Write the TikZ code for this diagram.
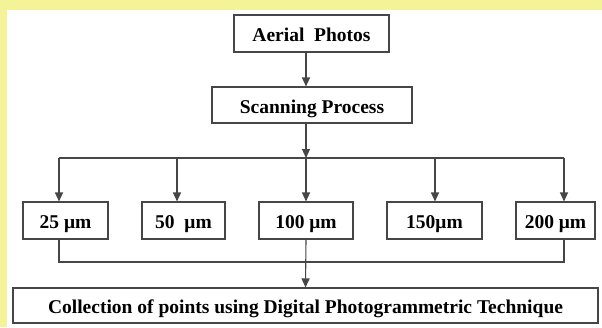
\documentclass[tikz,border=0pt]{standalone}
\usepackage{fontspec}
\setmainfont{Liberation Serif}
\usetikzlibrary{arrows.meta}
\definecolor{bandyellow}{RGB}{245,243,152}
\definecolor{linegray}{RGB}{70,70,70}
\tikzset{
  box/.style={draw=linegray, line width=1.1pt, inner sep=0pt,
              text height=16.4pt, text depth=0pt,
              font=\fontsize{19.5}{22}\selectfont\bfseries, text=black},
  flow/.style={draw=linegray, line width=1.1pt},
  arr/.style={flow, -{Triangle[width=8pt,length=9pt]}}
}
\begin{document}
\begin{tikzpicture}[x=1pt, y=-1pt]
  % page frame: white sheet with a yellow band on top and left
  \fill[white] (0,0) rectangle (602,327);
  \useasboundingbox (0,0) rectangle (602,327);
  \fill[bandyellow] (0,0) rectangle (602,10);
  \fill[bandyellow] (0,0) rectangle (7,327);

  % process boxes
  \node[box, minimum width=155pt, minimum height=37pt] (aerial) at (311.5,33.5) {Aerial\ \ Photos};
  \node[box, minimum width=200pt, minimum height=36pt] (scan) at (312,105) {Scanning Process};

  % resolution boxes
  \node[box, minimum width=85pt, minimum height=37pt] (r25)  at (65.5,220.5)  {25 μm};
  \node[box, minimum width=83pt, minimum height=37pt] (r50)  at (183.5,220.5) {50\ \ μm};
  \node[box, minimum width=94pt, minimum height=37pt] (r100) at (306,220.5)   {100 μm};
  \node[box, minimum width=95pt, minimum height=37pt] (r150) at (434.5,220.5) {150μm};
  \node[box, minimum width=79pt, minimum height=37pt] (r200) at (555.5,220.5) {200 μm};

  \node[box, minimum width=585pt, minimum height=35pt] (collect) at (305.5,305.5)
    {Collection of points using Digital Photogrammetric Technique};

  % branch lines
  \coordinate (spine) at (306,158);
  \coordinate (d1) at (59,158);
  \coordinate (d2) at (177,158);
  \coordinate (d3) at (306,158);
  \coordinate (d4) at (435,158);
  \coordinate (d5) at (564,158);
  \coordinate (j1) at (59,262);
  \coordinate (j5) at (564,262);

  \draw[arr] (spine |- aerial.south) -- (spine |- scan.north);
  \draw[arr] (spine |- scan.south) -- (spine);
  \draw[flow] (d1) -- (d5);
  \draw[arr] (d1) -- (d1 |- r25.north);
  \draw[arr] (d2) -- (d2 |- r50.north);
  \draw[arr] (d3) -- (d3 |- r100.north);
  \draw[arr] (d4) -- (d4 |- r150.north);
  \draw[arr] (d5) -- (d5 |- r200.north);

  % merge into the final step
  \draw[flow] (j1 |- r25.south) -- (j1) -- (j5) -- (j5 |- r200.south);
  \draw[arr] (r100.south) -- (collect.north);
\end{tikzpicture}
\end{document}
